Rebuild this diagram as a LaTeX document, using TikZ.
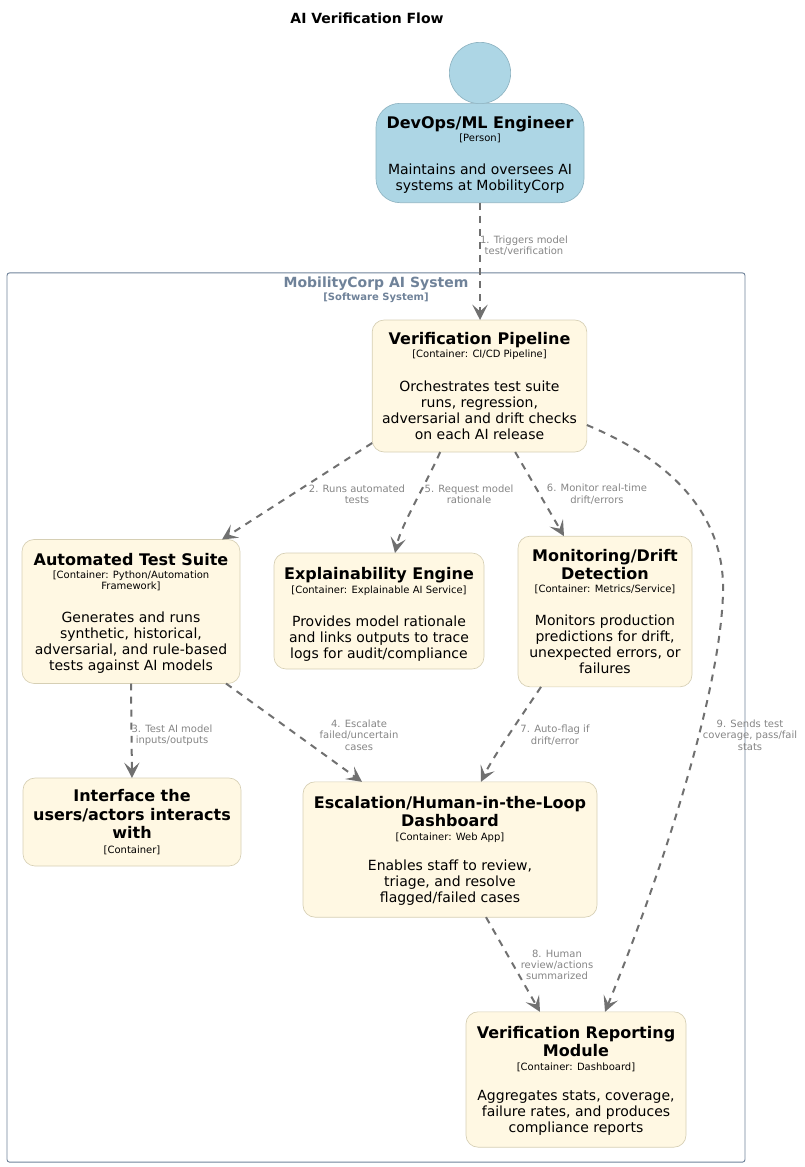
\documentclass[tikz,border=0pt]{standalone}
\usepackage{fontspec}
\setmainfont{DejaVu Sans}
\usetikzlibrary{arrows.meta,calc}
\definecolor{contfill}{HTML}{FFF8E3}
\definecolor{contline}{HTML}{D6CFB4}
\definecolor{persfill}{HTML}{ADD6E5}
\definecolor{persline}{HTML}{8FB4C2}
\definecolor{bound}{HTML}{6F8299}
\definecolor{edgecol}{HTML}{707070}
\newcommand{\ttl}{\fontsize{12}{14}\selectfont\bfseries}
\newcommand{\tagf}{\fontsize{7.5}{8.7}\selectfont\mdseries}
\newcommand{\dsc}{\fontsize{10.5}{12.3}\selectfont\mdseries}
\newcommand{\lbl}{\fontsize{7.5}{8.5}\selectfont}
\newcommand{\toplift}[1]{\rule{0pt}{#1}}
\tikzset{
  x=0.75pt,y=-0.75pt,
  boxbase/.style={rectangle,rounded corners=9pt,align=center,inner sep=0pt,outer sep=0pt,line width=0.5pt},
  contbox/.style={boxbase,draw=contline,fill=contfill,text=black},
  persbox/.style={boxbase,rounded corners=18pt,draw=persline,fill=persfill,text=black},
  rel/.style={draw=edgecol,line width=1.5pt,dash pattern=on 5.2pt off 4.6pt,
    -{Stealth[length=11.5pt,width=11.5pt,inset=5pt]}},
  edgelabel/.style={text=edgecol!85!white,font=\lbl,align=center,inner sep=0pt},
}
\begin{document}
\begin{tikzpicture}
\useasboundingbox (0,0) rectangle (804,1167);
\node[font=\fontsize{10.5}{12}\selectfont\bfseries,inner sep=0pt] (title) at (367,18) {AI Verification Flow};

\node[draw=bound,line width=0.7pt,rounded corners=2pt,minimum width=555pt-1.5pt,minimum height=667pt,inner sep=0pt] (sys) at (376,717.5) {};
\node[font=\fontsize{10.5}{12}\selectfont\bfseries,text=bound,inner sep=0pt] (systitle) at (376,284) {MobilityCorp AI System};
\node[font=\fontsize{7.5}{8.5}\selectfont\bfseries,text=bound,inner sep=0pt] (systag) at (376,297.5) {[Software System]};

\node[circle,draw=persline,fill=persfill,line width=0.5pt,minimum size=46pt,inner sep=0pt] (head) at (480,73) {};
\node[persbox,minimum width=156pt,minimum height=74.5pt] (person) at (480,153)
 {\ttl\toplift{12pt}DevOps/ML Engineer\\[-2pt]\tagf [Person]\\[13pt]\dsc Maintains and oversees AI\\\dsc systems at MobilityCorp};

\node[contbox,minimum width=161pt,minimum height=99pt] (ver) at (479.5,386)
 {\ttl Verification Pipeline\\[-2pt]\tagf [Container: CI/CD Pipeline]\\[13pt]\dsc Orchestrates test suite\\\dsc runs, regression,\\\dsc adversarial and drift checks\\\dsc on each AI release};
\node[contbox,minimum width=163.5pt,minimum height=108pt] (auto) at (131,611.5)
 {\ttl\toplift{12pt}Automated Test Suite\\[-2pt]\tagf [Container: Python/Automation\\[-3.6pt]\tagf Framework]\\[13pt]\dsc Generates and runs\\\dsc synthetic, historical,\\\dsc adversarial, and rule-based\\\dsc tests against AI models};
\node[contbox,minimum width=157.5pt,minimum height=87pt] (expl) at (379,611)
 {\ttl\toplift{14.5pt}Explainability Engine\\[-2pt]\tagf [Container: Explainable AI Service]\\[13pt]\dsc Provides model rationale\\\dsc and links outputs to trace\\\dsc logs for audit/compliance};
\node[contbox,minimum width=130.5pt,minimum height=113pt] (mon) at (605,611.5)
 {\ttl Monitoring/Drift\\[1.7pt]\ttl Detection\\[-2pt]\tagf [Container: Metrics/Service]\\[13pt]\dsc Monitors production\\\dsc predictions for drift,\\\dsc unexpected errors, or\\\dsc failures};
\node[contbox,minimum width=163.5pt,minimum height=66pt] (iface) at (132,822)
 {\ttl Interface the\\[1.7pt]\ttl users/actors interacts\\[1.7pt]\ttl with\\[-1pt]\tagf [Container]};
\node[contbox,minimum width=220.5pt,minimum height=101.5pt] (esc) at (450,849.5)
 {\ttl\toplift{11.5pt}Escalation/Human-in-the-Loop\\[1.7pt]\ttl Dashboard\\[-2pt]\tagf [Container: Web App]\\[11pt]\dsc Enables staff to review,\\\dsc triage, and resolve\\\dsc flagged/failed cases};
\node[contbox,minimum width=165pt,minimum height=101.5pt] (rep) at (576,1079.5)
 {\ttl\toplift{11.5pt}Verification Reporting\\[1.7pt]\ttl Module\\[-2pt]\tagf [Container: Dashboard]\\[11pt]\dsc Aggregates stats, coverage,\\\dsc failure rates, and produces\\\dsc compliance reports};

\draw[rel] (person.south) -- ($(ver.north)+(0.5,0)$);
\draw[rel] ($(ver.south west)+(0,-9)$) -- ($(auto.north east)+(-18,0)$);
\draw[rel] ($(ver.south west)+(68,0)$) .. controls +(-12,28) and +(6,-28) .. ($(expl.north)+(16,0)$);
\draw[rel] ($(ver.south west)+(143,0)$) -- ($(mon.north)+(-41,0)$);
\draw[rel] (auto.south) -- (iface.north);
\draw[rel] ($(auto.south east)+(-14,0)$) -- ($(esc.north)+(-88,0)$);
\draw[rel] ($(mon.south)+(-64,0)$) .. controls +(-20,30) and +(12,-25) .. ($(esc.north)+(31,0)$);
\draw[rel] ($(esc.south)+(36,0)$) -- ($(rep.north)+(-36,0)$);
\draw[rel] ($(ver.east)+(0,39)$) .. controls (690,468) and (725,530) .. (723,593)
  .. controls (720,700) and (655,890) .. ($(rep.north)+(29,0)$);

\node[edgelabel] (l1) at (524,245.5) {1. Triggers model\\test/verification};
\node[edgelabel] (l2) at (357,494) {2. Runs automated\\tests};
\node[edgelabel] (l5) at (469,494) {5. Request model\\rationale};
\node[edgelabel] (l6) at (597,494) {6. Monitor real-time\\drift/errors};
\node[edgelabel] (l3) at (172,735) {3. Test AI model\\inputs/outputs};
\node[edgelabel] (l4) at (359,735) {4. Escalate\\failed/uncertain\\cases};
\node[edgelabel] (l7) at (555,735) {7. Auto-flag if\\drift/error};
\node[edgelabel] (l9) at (750,735) {9. Sends test\\coverage, pass/fail\\stats};
\node[edgelabel] (l8) at (557,965) {8. Human\\review/actions\\summarized};
\end{tikzpicture}
\end{document}
